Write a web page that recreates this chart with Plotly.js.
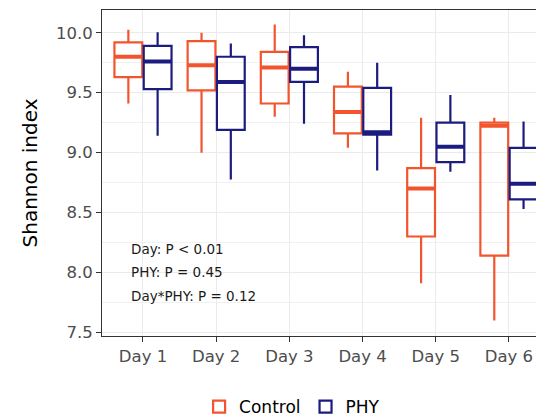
<!DOCTYPE html>
<html>
<head>
<meta charset="utf-8">
<script src="https://cdn.plot.ly/plotly-3.0.1.min.js"></script>
<style>
  html, body { margin: 0; padding: 0; background: #ffffff; overflow: hidden; }
  #chart { width: 536px; height: 420px; }
</style>
</head>
<body>
<div id="chart"></div>
<script>
// ---- data ----
const days = ["Day 1", "Day 2", "Day 3", "Day 4", "Day 5", "Day 6"];

const controlLower  = [9.41, 9.00, 9.30, 9.04, 7.91, 7.60];
const controlQ1     = [9.63, 9.52, 9.41, 9.16, 8.30, 8.14];
const controlMedian = [9.80, 9.73, 9.71, 9.34, 8.70, 9.225];
const controlQ3     = [9.92, 9.93, 9.84, 9.55, 8.87, 9.25];
const controlUpper  = [10.025, 10.00, 10.07, 9.675, 9.29, 9.29];

const phyLower  = [9.14, 8.775, 9.24, 8.85, 8.84, 8.53];
const phyQ1     = [9.53, 9.19, 9.59, 9.15, 8.92, 8.61];
const phyMedian = [9.76, 9.59, 9.70, 9.17, 9.05, 8.74];
const phyQ3     = [9.89, 9.80, 9.88, 9.54, 9.25, 9.04];
const phyUpper  = [10.005, 9.91, 9.98, 9.75, 9.48, 9.26];

const statLines = ["Day: P < 0.01", "PHY: P = 0.45", "Day*PHY: P = 0.12"];
const statY = [8.2, 8.0, 7.8];

const yTicks = [7.5, 8.0, 8.5, 9.0, 9.5, 10.0];
const yTickText = ["7.5", "8.0", "8.5", "9.0", "9.5", "10.0"];

// ---- styling ----
const controlColor = "#F2552E";
const phyColor = "#1C1C80";
const FONT = "DejaVu Sans, Liberation Sans, Arial, sans-serif";

function boxTrace(name, color, lower, q1, med, q3, upper, group) {
  return {
    type: "box", name: name, x: days, offsetgroup: group,
    lowerfence: lower, q1: q1, median: med, q3: q3, upperfence: upper,
    line: { color: color, width: 2.2 }, fillcolor: "rgba(255,255,255,0)",
    whiskerwidth: 0, boxpoints: false, hoverinfo: "skip"
  };
}
function medianTrace(color, med, group) {
  return {
    type: "box", name: "", x: days, offsetgroup: group, showlegend: false,
    lowerfence: med, q1: med, median: med, q3: med, upperfence: med,
    line: { color: color, width: 4 }, fillcolor: "rgba(255,255,255,0)",
    whiskerwidth: 0, boxpoints: false, hoverinfo: "skip"
  };
}

const data = [
  boxTrace("Control", controlColor, controlLower, controlQ1, controlMedian, controlQ3, controlUpper, "c"),
  boxTrace("PHY", phyColor, phyLower, phyQ1, phyMedian, phyQ3, phyUpper, "p"),
  medianTrace(controlColor, controlMedian, "c"),
  medianTrace(phyColor, phyMedian, "p")
];

const annotations = statLines.map((t, i) => ({
  text: t, xref: "paper", x: 0.062, xanchor: "left",
  yref: "y", y: statY[i], yanchor: "middle", showarrow: false,
  font: { family: FONT, size: 13.5, color: "#1a1a1a" }
}));

const layout = {
  width: 536, height: 420,
  margin: { l: 102, r: 0, t: 10, b: 84, autoexpand: false },
  paper_bgcolor: "#ffffff", plot_bgcolor: "#ffffff",
  font: { family: FONT, color: "#000000" },
  boxmode: "group", boxgap: 0.2, boxgroupgap: 0.05,
  showlegend: true,
  legend: {
    orientation: "h", xref: "paper", x: 0.438, xanchor: "center",
    y: -0.218, yanchor: "middle",
    font: { family: FONT, size: 17, color: "#000000" },
    itemwidth: 30, tracegroupgap: 0
  },
  xaxis: {
    type: "category", range: [-0.56, 5.37],
    showline: true, mirror: true, linecolor: "#333333", linewidth: 1,
    showgrid: true, gridcolor: "#EBEBEB", gridwidth: 1,
    ticks: "outside", ticklen: 5, tickcolor: "#333333", tickwidth: 1,
    tickfont: { family: FONT, size: 16.5, color: "#4D4D4D" },
    zeroline: false, fixedrange: true, automargin: false
  },
  yaxis: {
    range: [7.47, 10.19],
    tickvals: yTicks, ticktext: yTickText,
    showline: true, mirror: false, linecolor: "#333333", linewidth: 1,
    showgrid: true, gridcolor: "#EBEBEB", gridwidth: 1.2,
    minor: { dtick: 0.25, tick0: 7.5, showgrid: true, gridcolor: "#F1F1F1", gridwidth: 1, ticks: "" },
    ticks: "outside", ticklen: 5, tickcolor: "#333333", tickwidth: 1,
    tickfont: { family: FONT, size: 16.5, color: "#4D4D4D" },
    title: { text: "Shannon index", standoff: 12, font: { family: FONT, size: 20, color: "#000000" } },
    zeroline: false, fixedrange: true, automargin: false
  },
  annotations: annotations
};

Plotly.newPlot("chart", data, layout, { staticPlot: true, displayModeBar: false });
</script>
</body>
</html>
